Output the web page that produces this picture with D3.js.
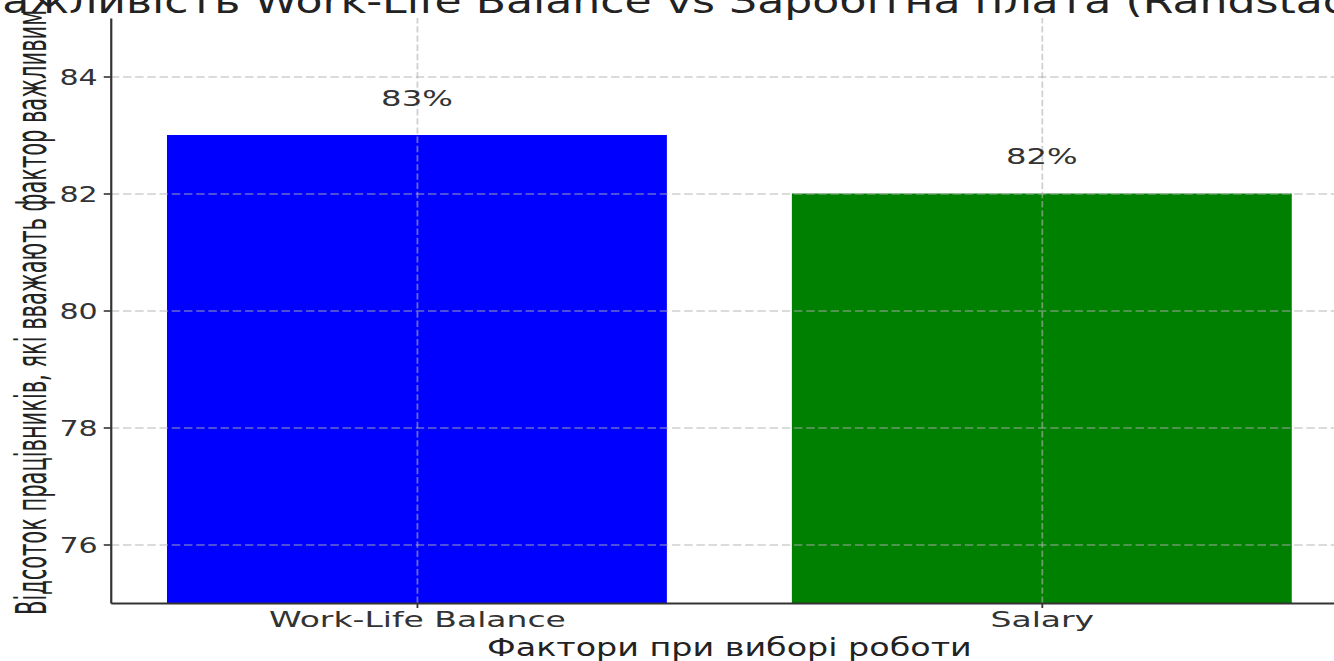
<!DOCTYPE html>
<html>
<head>
<meta charset="utf-8">
<script src="https://cdn.jsdelivr.net/npm/d3@7"></script>
<style>
  html, body { margin: 0; padding: 0; background: #fff; }
  svg { display: block; font-family: "DejaVu Sans", sans-serif; }
</style>
</head>
<body>
<svg id="chart" width="1334" height="661"></svg>
<script>
// chart data
const categories = ["Work-Life Balance", "Salary"];
const values = [83, 82];
const yTicks = [76, 78, 80, 82, 84];
const titleText = "Важливість Work-Life Balance vs Заробітна плата (Randstad, 2024)";
const xLabel = "Фактори при виборі роботи";
const yLabel = "Відсоток працівників, які вважають фактор важливим";

const barColors = ["#0000ff", "#008000"];
const textColor = "#333";
const sx = 1.334; // the picture is stretched sideways

const svg = d3.select("#chart");

const x = d3.scaleLinear().domain([-0.49, 1.49]).range([110.75, 1348]);
const y = d3.scaleLinear().domain([75, 85]).range([603, 18]);
const barW = 0.8;

// bars
svg.append("g").selectAll("rect")
    .data(values)
    .join("rect")
    .attr("x", (d, i) => x(i - barW / 2))
    .attr("width", (d, i) => x(i + barW / 2) - x(i - barW / 2))
    .attr("y", d => y(d))
    .attr("height", d => y(75) - y(d))
    .attr("fill", (d, i) => barColors[i]);

// grid on top of the bars
const gridY = svg.append("g")
    .call(d3.axisLeft(y).tickValues(yTicks).tickSize(-(x(1.49) - x(-0.49))).tickFormat(""))
    .attr("transform", `translate(${x(-0.49)},0)`);
gridY.select(".domain").remove();
gridY.selectAll("line")
    .attr("stroke", "#b0b0b0")
    .attr("stroke-opacity", 0.6)
    .attr("stroke-width", 1.5)
    .attr("stroke-dasharray", "8.5,3.7");

const gridX = svg.append("g")
    .call(d3.axisBottom(x).tickValues([0, 1]).tickSize(-(y(75) - y(85))).tickFormat(""))
    .attr("transform", `translate(0,${y(75)})`);
gridX.select(".domain").remove();
gridX.selectAll("line")
    .attr("stroke", "#b0b0b0")
    .attr("stroke-opacity", 0.6)
    .attr("stroke-width", 1.8)
    .attr("stroke-dasharray", "6.4,2.8");

// y axis
const yAxis = svg.append("g")
    .attr("transform", `translate(${x(-0.49)},0)`)
    .call(d3.axisLeft(y).tickValues(yTicks).tickSize(7).tickSizeOuter(0));
yAxis.select(".domain").attr("stroke", textColor).attr("stroke-width", 2.2);
yAxis.selectAll(".tick line").attr("stroke", textColor).attr("stroke-width", 1.6);
yAxis.selectAll(".tick text")
    .attr("x", 0).attr("dy", null).attr("y", 7.8)
    .attr("transform", `translate(-13,0) scale(1.4,1)`)
    .attr("font-size", 21.5)
    .attr("font-family", "DejaVu Sans")
    .attr("fill", textColor);

// x axis
const xAxis = svg.append("g")
    .attr("transform", `translate(0,${y(75)})`)
    .call(d3.axisBottom(x).tickValues([0, 1]).tickFormat(i => categories[i]).tickSize(5).tickSizeOuter(0));
xAxis.select(".domain").attr("stroke", textColor).attr("stroke-width", 2);
xAxis.selectAll(".tick line").attr("stroke", textColor).attr("stroke-width", 1.8);
xAxis.selectAll(".tick text")
    .attr("y", 0).attr("dy", null)
    .attr("transform", `translate(0,24) scale(1.5,1)`)
    .attr("font-size", 22)
    .attr("font-family", "DejaVu Sans")
    .attr("fill", textColor);

// value labels
svg.append("g").selectAll("text")
    .data(values)
    .join("text")
    .attr("transform", (d, i) => `translate(${x(i)},${y(d + 0.5)}) scale(1.5,1)`)
    .attr("text-anchor", "middle")
    .attr("font-size", 21.5)
    .attr("fill", textColor)
    .text(d => d + "%");

// axis labels
svg.append("text")
    .attr("transform", `translate(${(x(-0.49) + x(1.49)) / 2},656) scale(${sx},1)`)
    .attr("text-anchor", "middle")
    .attr("font-size", 25)
    .attr("fill", "#222")
    .text(xLabel);

svg.append("text")
    .attr("transform", `translate(46,${(y(75) + y(85)) / 2 + 2}) rotate(-90)`)
    .attr("text-anchor", "middle")
    .attr("font-size", 42)
    .attr("font-family", "'DejaVu Sans Condensed', 'Liberation Sans Narrow', 'DejaVu Sans'")
    .attr("textLength", 605)
    .attr("lengthAdjust", "spacingAndGlyphs")
    .attr("fill", "#222")
    .text(yLabel);

// title, cut by the top and side edges
svg.append("text")
    .attr("transform", `translate(-28,12.5) scale(${sx},1)`)
    .attr("text-anchor", "start")
    .attr("font-size", 33.1)
    .attr("fill", "#222")
    .text(titleText);
</script>
</body>
</html>
